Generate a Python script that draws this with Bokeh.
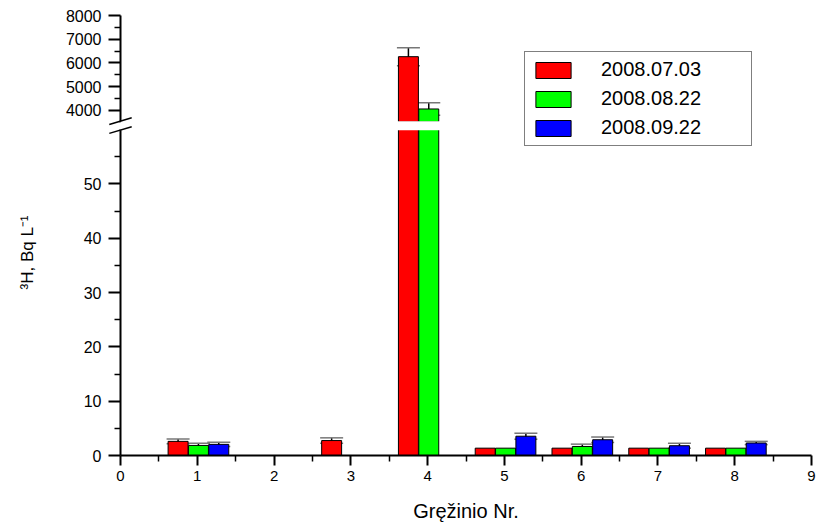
import math
import numpy as np
from bokeh.plotting import figure
from bokeh.models import (Range1d, LinearAxis, FixedTicker, ColumnDataSource, Whisker,
                          TeeHead, BoxAnnotation, Arrow, Legend, LegendItem, Label)
from bokeh.embed import file_html
from bokeh.resources import INLINE

nan = float("nan")

# ---------------- data ----------------
wells = [1, 2, 3, 4, 5, 6, 7, 8]
series_names = ["2008.07.03", "2008.08.22", "2008.09.22"]
series_colors = ["#FF0000", "#00FF00", "#0000FF"]

vals_0703 = [2.6, nan, 2.75, 6260, 1.35, 1.35, 1.35, 1.35]
vals_0822 = [1.85, nan, nan, 4050, 1.35, 1.66, 1.35, 1.35]
vals_0922 = [2.05, nan, nan, nan, 3.55, 2.9, 1.8, 2.3]

err_0703 = [0.45, 0, 0.5, 380, 0, 0, 0, 0]
err_0822 = [0.4, 0, 0, 260, 0, 0.43, 0, 0]
err_0922 = [0.4, 0, 0, 0, 0.55, 0.5, 0.45, 0.3]

x_ticks = [0, 1, 2, 3, 4, 5, 6, 7, 8, 9]
x_minor = [0.5, 1.5, 2.5, 3.5, 4.5, 5.5, 6.5, 7.5, 8.5]
low_ticks = [0, 10, 20, 30, 40, 50]
low_minor = [5, 15, 25, 35, 45, 55]
up_ticks = [4000, 5000, 6000, 7000, 8000]
up_minor = [4500, 5500, 6500, 7500]

x_title = "Gręžinio Nr."
y_title = "³H, Bq L⁻¹"

X_MIN, X_MAX = 0, 9
LOW_MIN, LOW_MAX = 0, 60
UP_MIN, UP_MAX = 3500, 8000

# ---------------- layout (pixels) ----------------
W, H = 819, 527
X0_PX, X9_PX = 120.0, 811.0          # x = 0 and x = 9
Y0_PX, LOW_TOP_PX = 455.0, 129.0     # 0 and LOW_MAX
UP_BOT_PX, UP_TOP_PX = 121.5, 15.0   # UP_MIN and UP_MAX

kx = (X9_PX - X0_PX) / (X_MAX - X_MIN)
x_start = X_MIN - X0_PX / kx
x_end = X_MAX + (W - X9_PX) / kx

k = (Y0_PX - LOW_TOP_PX) / (LOW_MAX - LOW_MIN)
main_start = LOW_MIN - (H - Y0_PX) / k
main_end = LOW_MIN + Y0_PX / k

ku = (UP_BOT_PX - UP_TOP_PX) / (UP_MAX - UP_MIN)
up_end = UP_MAX + UP_TOP_PX / ku
up_start = UP_MAX - (H - UP_TOP_PX) / ku

gap_top_main = LOW_MIN + (Y0_PX - UP_BOT_PX) / k

BAR_W = 0.26
offsets = [-0.25, 0.015, 0.28]
FONT = "Liberation Sans"

p = figure(width=W, height=H, output_backend="svg", toolbar_location=None,
           x_range=Range1d(x_start, x_end), y_range=Range1d(main_start, main_end),
           min_border=0, min_border_left=0, min_border_right=0,
           min_border_top=0, min_border_bottom=0)
p.extra_y_ranges = {"upper": Range1d(up_start, up_end)}
p.outline_line_color = None
p.xgrid.visible = False
p.ygrid.visible = False
p.background_fill_color = "white"
p.border_fill_color = "white"

all_vals = [vals_0703, vals_0822, vals_0922]
all_errs = [err_0703, err_0822, err_0922]

legend_items = []
low_wx, low_wl, low_wu = [], [], []
up_wx, up_wl, up_wu = [], [], []
for name, col, vals, errs, off in zip(series_names, series_colors, all_vals, all_errs, offsets):
    v = np.array(vals, dtype=float)
    e = np.array(errs, dtype=float)
    xs = np.array(wells, dtype=float) + off
    low_top = np.minimum(v, LOW_MAX)
    r = p.vbar(x=xs, top=low_top, bottom=LOW_MIN, width=BAR_W, fill_color=col,
               line_color="black", line_width=1)
    up_top = np.where(v > UP_MIN, v, nan)
    p.vbar(x=xs, top=up_top, bottom=UP_MIN, width=BAR_W, fill_color=col,
           line_color="black", line_width=1, y_range_name="upper")
    legend_items.append(LegendItem(label=name, renderers=[r]))
    for xi, vi, ei in zip(xs, v, e):
        if np.isnan(vi) or ei <= 0:
            continue
        if vi > UP_MIN:
            up_wx.append(xi); up_wl.append(vi - ei); up_wu.append(vi + ei)
        else:
            low_wx.append(xi); low_wl.append(vi - ei); low_wu.append(vi + ei)


def add_whisker(xs, lo, hi, rng=None):
    src = ColumnDataSource(dict(x=xs, lower=lo, upper=hi))
    kw = dict(base="x", lower="lower", upper="upper", source=src,
              line_color="black", line_width=1.5,
              upper_head=TeeHead(size=23, line_color="#777777", line_width=1.5),
              lower_head=TeeHead(size=23, line_color="#777777", line_width=1.5))
    if rng:
        kw["y_range_name"] = rng
    p.add_layout(Whisker(**kw))


add_whisker(low_wx, low_wl, low_wu)
add_whisker(up_wx, up_wl, up_wu, "upper")

# white gap of the axis break
p.add_layout(BoxAnnotation(left=X_MIN, right=X_MAX,
                           bottom=LOW_MAX - 0.15, top=gap_top_main + 0.12,
                           fill_color="white", fill_alpha=1.0,
                           line_color=None, line_alpha=0))

# break marks on the y axis
dx = 11.2 / kx
dy = 3.35 / k
for yc in [LOW_MAX - 0.1, gap_top_main + 0.15]:
    p.add_layout(Arrow(end=None, x_start=X_MIN - dx, y_start=yc - dy,
                       x_end=X_MIN + dx, y_end=yc + dy,
                       line_color="black", line_width=1.5))

# ---------------- axes ----------------
xa = p.xaxis[0]
xa.fixed_location = LOW_MIN
xa.bounds = (X_MIN, X_MAX)
xa.ticker = FixedTicker(ticks=x_ticks, minor_ticks=x_minor)
xa.axis_label = x_title

ya = p.yaxis[0]
ya.fixed_location = X_MIN
ya.ticker = FixedTicker(ticks=low_ticks, minor_ticks=low_minor)
ya.bounds = (LOW_MIN, LOW_MAX)

ua = LinearAxis(y_range_name="upper", fixed_location=X_MIN, bounds=(UP_MIN, UP_MAX),
                ticker=FixedTicker(ticks=up_ticks, minor_ticks=up_minor))
p.add_layout(ua, "left")

for ax in [xa, ya, ua]:
    ax.axis_line_width = 2
    ax.axis_line_color = "black"
    ax.major_tick_line_width = 2
    ax.minor_tick_line_width = 1.5
    ax.major_tick_line_color = "black"
    ax.minor_tick_line_color = "black"
    ax.major_tick_in = 0
    ax.minor_tick_in = 0
    ax.major_label_text_font = FONT
    ax.major_label_text_color = "black"
    ax.axis_label_text_font = FONT
    ax.axis_label_text_font_style = "normal"
    ax.axis_label_text_color = "black"

xa.major_tick_out = 10
xa.minor_tick_out = 6
xa.major_label_text_font_size = "15px"
xa.major_label_standoff = 5
xa.axis_label_text_font_size = "20px"
xa.axis_label_standoff = 16

for ax in [ya, ua]:
    ax.major_tick_out = 12
    ax.minor_tick_out = 6
    ax.major_label_text_font_size = "16px"
    ax.major_label_standoff = 7

# y-axis title, placed beside the broken axis
p.add_layout(Label(x=27, y=H - 252, x_units="screen", y_units="screen",
                   text=y_title, angle=math.pi / 2, text_align="center",
                   text_baseline="middle", text_font=FONT, text_font_size="17px",
                   text_color="black"))

# ---------------- legend ----------------
legend = Legend(items=legend_items, location=(524, H - 146), orientation="vertical",
                label_text_font=FONT, label_text_font_size="20px",
                label_text_color="black",
                glyph_width=44, glyph_height=20, label_height=23, label_width=144,
                label_standoff=26, spacing=6, padding=6, margin=0,
                border_line_color="black", border_line_width=1,
                background_fill_color="white", background_fill_alpha=1.0)
p.add_layout(legend)

open("out.html", "w").write(file_html(p, INLINE))
